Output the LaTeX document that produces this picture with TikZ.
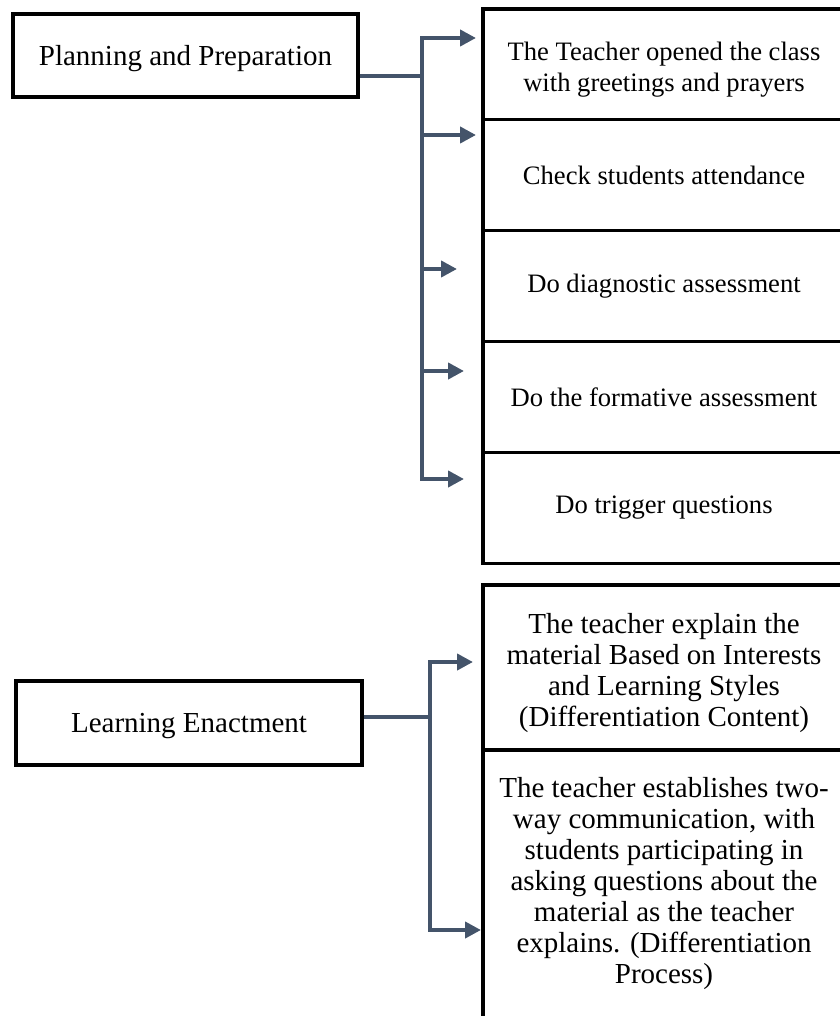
\documentclass[tikz,border=0pt]{standalone}
\usepackage{fontspec}
\setmainfont{Liberation Serif}
\usetikzlibrary{arrows.meta}
\definecolor{slate}{HTML}{44546A}

\begin{document}
\begin{tikzpicture}[x=1pt, y=-1pt,
  every node/.style={font=\fontsize{29}{31}\selectfont, align=center},
  box/.style={draw, line width=3.2pt, inner sep=0pt},
  stage/.style={box, text depth=0pt},
  stepbox/.style={box, minimum width=362pt, minimum height=110.8pt, font=\fontsize{26.6}{31}\selectfont},
  link/.style={draw=slate, line width=4pt},
  flow/.style={link, -{Triangle[length=16pt, width=16pt]}}]
\useasboundingbox (0,0) rectangle (839,1016);

% stages on the left
\node [stage, minimum width=345pt, minimum height=83pt] (plan) at (185.5,55.5) {Planning and Preparation};
\node [stage, minimum width=346pt, minimum height=84pt] (enact) at (189,723) {Learning Enactment};

% steps of planning and preparation
\node [stepbox, text height=53.4pt, text depth=0pt] (greet) at (664,64.5) {The Teacher opened the class\\with greetings and prayers};
\node [stepbox] (attend) at (664,175.3) {Check students attendance};
\node [stepbox] (diag) at (664,286.1) {Do diagnostic assessment};
\node [stepbox] (form) at (664,396.9) {Do the formative assessment};
\node [stepbox] (trigger) at (664,507.7) {Do trigger questions};

% steps of learning enactment
\node [box, minimum width=362pt, minimum height=165pt, text height=118.8pt, text depth=0pt] (content) at (664,667.5) {The teacher explain the\\material Based on Interests\\and Learning Styles\\(Differentiation Content)};
\node [box, minimum width=362pt, minimum height=268pt] (process) at (664,884) {The teacher establishes two-\\way communication, with\\students participating in\\asking questions about the\\material as the teacher\\explains. (Differentiation\\Process)};

% forks and arrow ends
\coordinate (ppfork) at (422,76);
\coordinate (a1) at (476,38);
\coordinate (a2) at (476,135);
\coordinate (a3) at (457,269);
\coordinate (a4) at (464,371);
\coordinate (a5) at (464,479);
\coordinate (lefork) at (430,717);
\coordinate (a6) at (473,662);
\coordinate (a7) at (481,930);

\draw [link] (plan.east |- ppfork) -- (ppfork);
\draw [flow] (ppfork) |- (a1);
\draw [flow] (ppfork) |- (a2);
\draw [flow] (ppfork) |- (a3);
\draw [flow] (ppfork) |- (a4);
\draw [flow] (ppfork) |- (a5);

\draw [link] (enact.east |- lefork) -- (lefork);
\draw [flow] (lefork) |- (a6);
\draw [flow] (lefork) |- (a7);

\end{tikzpicture}
\end{document}
